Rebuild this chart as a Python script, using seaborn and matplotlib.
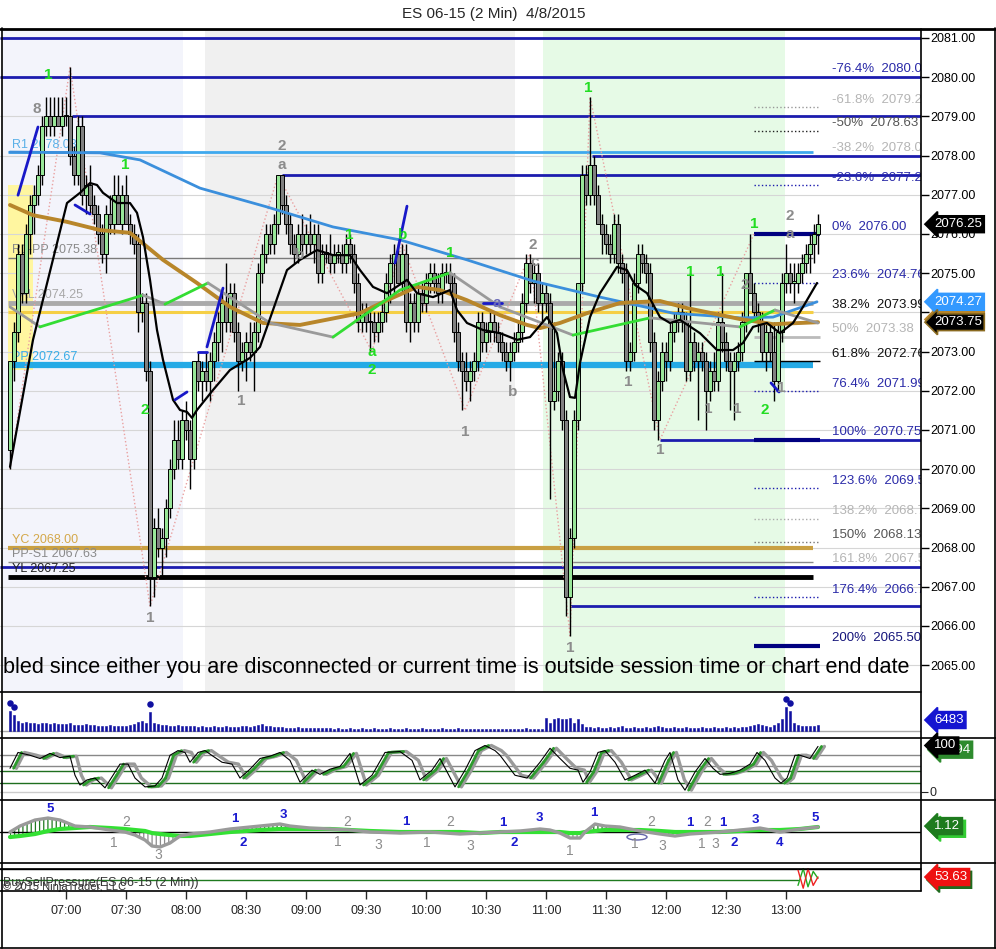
import numpy as np
import matplotlib
matplotlib.use("Agg")
import matplotlib.pyplot as plt
import matplotlib.transforms as mtrans
from matplotlib.patches import Rectangle, Ellipse
import seaborn as sns

sns.set_style("white")
plt.rcParams['font.family'] = ['Liberation Sans', 'DejaVu Sans']
plt.rcParams['hatch.linewidth'] = 0.9

# ---------------- data (2 min bars from 06:32) ----------------
bar_open = [
    2070.50, 2072.75, 2073.50, 2075.50, 2074.50, 2076.00, 2076.75, 2077.00, 2077.50, 2078.75,
    2079.00, 2078.75, 2079.00, 2078.75, 2079.00, 2079.00, 2078.00, 2077.50, 2078.75, 2077.00,
    2077.25, 2076.75, 2076.50, 2076.00, 2075.50, 2076.50, 2076.25, 2077.00, 2076.25, 2077.00,
    2076.25, 2076.00, 2075.75, 2074.00, 2074.25, 2072.50, 2067.25, 2068.50, 2068.00, 2068.25,
    2069.00, 2070.00, 2070.75, 2070.25, 2071.25, 2071.00, 2070.25, 2072.75, 2072.25, 2072.50,
    2072.25, 2072.75, 2073.25, 2073.75, 2074.25, 2073.75, 2074.50, 2073.50, 2072.75, 2073.00,
    2073.25, 2073.00, 2073.50, 2075.00, 2075.50, 2076.00, 2075.75, 2076.25, 2077.50, 2076.75,
    2076.25, 2075.75, 2075.50, 2076.00, 2075.75, 2076.00, 2075.75, 2076.00, 2075.00, 2075.50,
    2075.50, 2075.25, 2075.50, 2075.50, 2075.25, 2075.75, 2075.50, 2074.75, 2073.75, 2074.00,
    2073.75, 2073.75, 2073.50, 2073.75, 2074.00, 2074.75, 2075.25, 2075.50, 2074.75, 2075.50,
    2073.75, 2074.25, 2073.75, 2074.50, 2074.25, 2074.75, 2075.00, 2074.75, 2074.50, 2075.00,
    2075.00, 2074.75, 2073.50, 2072.75, 2072.50, 2072.25, 2072.50, 2072.75, 2073.75, 2073.25,
    2073.50, 2073.75, 2073.50, 2073.25, 2073.00, 2072.75, 2073.00, 2073.25, 2073.50, 2074.25,
    2075.25, 2074.75, 2075.00, 2074.25, 2074.50, 2074.25, 2071.75, 2072.00, 2072.75, 2071.25,
    2066.75, 2068.25, 2071.25, 2074.75, 2077.50, 2077.00, 2077.75, 2077.00, 2076.25, 2076.00,
    2075.75, 2075.50, 2076.25, 2075.25, 2075.00, 2072.75, 2073.00, 2074.75, 2075.50, 2075.25,
    2075.00, 2073.25, 2071.25, 2072.25, 2073.00, 2072.75, 2073.50, 2073.75, 2074.00, 2073.75,
    2072.50, 2073.25, 2072.75, 2073.00, 2072.75, 2072.00, 2072.50, 2072.25, 2073.75, 2073.25,
    2072.75, 2072.50, 2072.75, 2073.00, 2073.75, 2075.00, 2074.50, 2074.00, 2073.75, 2073.00,
    2073.50, 2073.00, 2072.25, 2073.50, 2074.75, 2075.00, 2074.75, 2074.75, 2075.00, 2075.25,
    2075.50, 2075.75, 2076.00]
bar_high = [
    2072.75, 2073.75, 2075.75, 2075.75, 2076.25, 2077.00, 2077.25, 2077.75, 2079.00, 2079.50,
    2079.50, 2079.50, 2079.50, 2079.50, 2079.50, 2080.25, 2078.25, 2079.00, 2079.00, 2077.50,
    2077.75, 2077.00, 2076.75, 2076.25, 2076.75, 2077.00, 2077.50, 2077.50, 2077.25, 2077.50,
    2076.50, 2076.25, 2076.00, 2074.50, 2074.50, 2072.75, 2068.75, 2069.00, 2068.50, 2069.25,
    2070.25, 2071.25, 2071.25, 2071.50, 2071.75, 2071.25, 2072.75, 2073.00, 2072.75, 2073.00,
    2073.00, 2073.50, 2074.00, 2074.50, 2075.25, 2074.75, 2074.75, 2073.75, 2073.25, 2073.50,
    2073.75, 2073.75, 2075.25, 2075.75, 2076.25, 2076.25, 2076.50, 2077.50, 2077.50, 2077.00,
    2076.50, 2076.00, 2076.25, 2076.50, 2076.25, 2076.50, 2076.25, 2076.25, 2075.75, 2075.75,
    2076.00, 2075.75, 2075.75, 2075.75, 2076.00, 2076.00, 2075.75, 2075.00, 2074.25, 2074.25,
    2074.00, 2074.00, 2074.00, 2074.25, 2075.00, 2075.50, 2075.75, 2075.75, 2075.75, 2075.75,
    2074.50, 2074.50, 2074.75, 2074.75, 2075.00, 2075.25, 2075.25, 2075.00, 2075.25, 2075.25,
    2075.25, 2075.00, 2073.75, 2073.00, 2073.00, 2072.75, 2073.00, 2074.00, 2074.00, 2073.75,
    2074.00, 2074.00, 2073.75, 2073.50, 2073.25, 2073.25, 2073.50, 2073.75, 2074.50, 2075.50,
    2075.50, 2075.25, 2075.25, 2074.75, 2074.75, 2074.50, 2073.75, 2073.00, 2073.00, 2071.50,
    2068.50, 2071.50, 2074.75, 2077.75, 2077.75, 2079.50, 2078.00, 2077.25, 2076.50, 2076.25,
    2076.00, 2076.50, 2076.50, 2075.50, 2075.25, 2073.25, 2075.00, 2075.75, 2075.75, 2075.50,
    2075.25, 2073.50, 2072.50, 2073.25, 2073.25, 2073.75, 2074.00, 2074.25, 2074.25, 2074.00,
    2075.00, 2073.50, 2073.25, 2073.25, 2073.00, 2072.75, 2073.00, 2074.00, 2075.00, 2073.50,
    2073.00, 2073.00, 2073.25, 2074.00, 2075.00, 2076.00, 2074.75, 2074.25, 2074.00, 2073.75,
    2073.75, 2073.75, 2073.75, 2075.00, 2075.75, 2075.25, 2075.25, 2075.25, 2075.50, 2075.75,
    2076.00, 2076.25, 2076.50]
bar_low = [
    2070.00, 2072.25, 2073.25, 2074.25, 2074.25, 2075.50, 2076.00, 2076.75, 2077.25, 2078.50,
    2078.50, 2078.50, 2078.75, 2078.50, 2078.75, 2077.75, 2077.25, 2077.25, 2076.75, 2076.50,
    2076.50, 2076.25, 2075.75, 2075.25, 2075.00, 2076.00, 2076.00, 2076.25, 2076.00, 2076.25,
    2075.75, 2075.50, 2073.50, 2073.75, 2072.25, 2066.50, 2066.75, 2067.75, 2067.25, 2067.75,
    2068.75, 2069.75, 2070.00, 2070.00, 2070.75, 2069.50, 2070.00, 2072.00, 2071.75, 2072.00,
    2071.75, 2072.25, 2072.75, 2073.00, 2073.50, 2073.50, 2073.25, 2072.00, 2072.50, 2072.25,
    2072.75, 2072.00, 2073.25, 2074.75, 2075.25, 2075.50, 2075.50, 2076.00, 2076.50, 2076.00,
    2075.50, 2075.25, 2075.25, 2075.50, 2075.50, 2075.50, 2075.25, 2074.75, 2074.75, 2075.25,
    2075.00, 2075.00, 2075.25, 2075.00, 2075.00, 2075.25, 2074.50, 2073.50, 2073.50, 2073.50,
    2073.00, 2073.25, 2073.25, 2073.50, 2073.75, 2074.25, 2074.50, 2074.75, 2074.50, 2073.50,
    2073.25, 2073.50, 2073.50, 2074.00, 2074.00, 2074.50, 2074.50, 2074.25, 2074.25, 2074.75,
    2074.50, 2073.25, 2072.50, 2071.50, 2072.00, 2071.75, 2072.25, 2072.50, 2073.00, 2073.00,
    2073.25, 2073.25, 2073.00, 2072.75, 2072.50, 2072.25, 2072.75, 2073.00, 2073.25, 2074.00,
    2074.50, 2074.25, 2074.00, 2073.75, 2074.00, 2069.25, 2071.50, 2071.75, 2071.00, 2066.25,
    2065.75, 2068.00, 2071.00, 2074.50, 2076.75, 2076.75, 2076.75, 2076.25, 2075.50, 2075.50,
    2075.25, 2075.25, 2075.00, 2074.75, 2072.50, 2072.50, 2072.75, 2074.50, 2075.00, 2074.75,
    2073.00, 2071.00, 2070.75, 2072.00, 2072.25, 2072.50, 2073.25, 2073.50, 2073.50, 2072.25,
    2072.25, 2072.50, 2071.25, 2072.50, 2071.00, 2071.75, 2072.00, 2072.00, 2073.00, 2072.50,
    2071.50, 2071.25, 2072.50, 2072.75, 2073.50, 2074.50, 2073.75, 2073.50, 2072.75, 2072.50,
    2072.75, 2071.75, 2072.00, 2073.25, 2074.50, 2074.50, 2074.25, 2074.50, 2074.75, 2075.00,
    2075.00, 2075.25, 2075.50]
bar_close = [
    2072.75, 2073.50, 2075.50, 2074.50, 2076.00, 2076.75, 2077.00, 2077.50, 2078.75, 2079.00,
    2078.75, 2079.00, 2078.75, 2079.00, 2079.00, 2078.00, 2077.50, 2078.75, 2077.00, 2077.25,
    2076.75, 2076.50, 2076.00, 2075.50, 2076.50, 2076.25, 2077.00, 2076.25, 2077.00, 2076.25,
    2076.00, 2075.75, 2074.00, 2074.25, 2072.50, 2067.25, 2068.50, 2068.00, 2068.25, 2069.00,
    2070.00, 2070.75, 2070.25, 2071.25, 2071.00, 2070.25, 2072.75, 2072.25, 2072.50, 2072.25,
    2072.75, 2073.25, 2073.75, 2074.25, 2073.75, 2074.50, 2073.50, 2072.75, 2073.00, 2073.25,
    2073.00, 2073.50, 2075.00, 2075.50, 2076.00, 2075.75, 2076.25, 2077.50, 2076.75, 2076.25,
    2075.75, 2075.50, 2076.00, 2075.75, 2076.00, 2075.75, 2076.00, 2075.00, 2075.50, 2075.50,
    2075.25, 2075.50, 2075.50, 2075.25, 2075.75, 2075.50, 2074.75, 2073.75, 2074.00, 2073.75,
    2073.75, 2073.50, 2073.75, 2074.00, 2074.75, 2075.25, 2075.50, 2074.75, 2075.50, 2073.75,
    2074.25, 2073.75, 2074.50, 2074.25, 2074.75, 2075.00, 2074.75, 2074.50, 2075.00, 2075.00,
    2074.75, 2073.50, 2072.75, 2072.50, 2072.25, 2072.50, 2072.75, 2073.75, 2073.25, 2073.50,
    2073.75, 2073.50, 2073.25, 2073.00, 2072.75, 2073.00, 2073.25, 2073.50, 2074.25, 2075.25,
    2074.75, 2075.00, 2074.25, 2074.50, 2074.25, 2071.75, 2072.00, 2072.75, 2071.25, 2066.75,
    2068.25, 2071.25, 2074.75, 2077.50, 2077.00, 2077.75, 2077.00, 2076.25, 2076.00, 2075.75,
    2075.50, 2076.25, 2075.25, 2075.00, 2072.75, 2073.00, 2074.75, 2075.50, 2075.25, 2075.00,
    2073.25, 2071.25, 2072.25, 2073.00, 2072.75, 2073.50, 2073.75, 2074.00, 2073.75, 2072.50,
    2073.25, 2072.75, 2073.00, 2072.75, 2072.00, 2072.50, 2072.25, 2073.75, 2073.25, 2072.75,
    2072.50, 2072.75, 2073.00, 2073.75, 2075.00, 2074.50, 2074.00, 2073.75, 2073.00, 2073.50,
    2073.00, 2072.25, 2073.50, 2074.75, 2075.00, 2074.75, 2074.75, 2075.00, 2075.25, 2075.50,
    2075.75, 2076.00, 2076.25]
volume = [
    11800, 9400, 5900, 4700, 5300, 4700, 4700, 4100, 4700, 4700,
    4100, 4700, 4100, 4100, 4100, 4700, 3500, 3500, 3500, 4100,
    3500, 3500, 3000, 3000, 3000, 3500, 3000, 3000, 3000, 3000,
    3500, 4100, 5300, 5900, 4700, 11200, 4700, 4100, 3500, 3500,
    3000, 3000, 3500, 3000, 3000, 3000, 3000, 2400, 3000, 2400,
    2400, 3000, 2400, 2400, 3000, 2400, 2400, 2400, 3000, 3000,
    2400, 3000, 3500, 4100, 3000, 3000, 2400, 2400, 2400, 1800,
    1800, 1800, 2400, 1800, 1800, 1800, 1800, 1800, 1800, 1800,
    1800, 1200, 1800, 1200, 1200, 1800, 1200, 1200, 1800, 1200,
    1200, 1800, 1200, 1200, 1200, 1800, 1200, 1200, 1200, 1800,
    1200, 1200, 1200, 1800, 1200, 1200, 1200, 1200, 1800, 1200,
    1200, 1200, 1800, 1200, 1200, 1200, 1200, 1200, 1200, 1200,
    1200, 1200, 1200, 1200, 1200, 1200, 1200, 1200, 1200, 1800,
    1200, 1200, 1200, 1200, 7700, 4700, 7100, 7700, 7100, 7100,
    7700, 4700, 7100, 4100, 2400, 2400, 1800, 2400, 1800, 1800,
    2400, 1800, 2400, 3000, 1800, 1800, 2400, 1800, 1800, 2400,
    1800, 2400, 3000, 2400, 1800, 1800, 2400, 1800, 1800, 2400,
    1800, 1800, 1800, 2400, 1800, 1800, 2400, 1800, 1800, 2400,
    1800, 2400, 1800, 2400, 2400, 3000, 3500, 4100, 3500, 3000,
    2400, 3500, 4700, 7100, 14100, 11800, 4700, 3500, 3000, 3000,
    3000, 3000, 3500]

time_labels = ['07:00', '07:30', '08:00', '08:30', '09:00', '09:30', '10:00',
               '10:30', '11:00', '11:30', '12:00', '12:30', '13:00']
first_bar_minute = 6 * 60 + 32

# moving averages (bar index, price)
black_i = [0, 5.75, 14.25, 17.5, 20, 21.75, 23.25, 26.75, 30, 31.75, 33.25, 35, 36.75, 38.25,
           40.75, 42.5, 44.25, 45.5, 46.75, 50.75, 55, 60, 62.5, 65.75, 69.25, 72.5, 76.75,
           80.75, 85, 87.5, 90.75, 94.25, 99.25, 101.75, 105.75, 110, 111.75, 114.25, 118.25,
           122.5, 126.75, 130, 134.25, 136.75, 138.25, 140, 141.25, 142.5, 145, 147.5, 151.75,
           154.25, 156.25, 159.25, 162.5, 165, 167.5, 172.5, 176.75, 180.75, 183.25, 185.75,
           189.25, 192.5, 195.75, 198.25, 201.75]
black_p = [2070.06, 2073.30, 2076.79, 2077.05, 2077.30, 2077.25, 2077.05, 2076.79, 2076.79,
           2076.54, 2075.92, 2074.83, 2073.55, 2072.79, 2071.77, 2071.51, 2071.46, 2071.31,
           2071.51, 2072.02, 2072.53, 2072.84, 2073.12, 2074.06, 2075.08, 2075.34, 2075.59,
           2075.46, 2075.46, 2075.08, 2074.65, 2074.49, 2074.83, 2074.49, 2074.39, 2074.57,
           2074.06, 2073.73, 2073.55, 2073.47, 2073.30, 2073.37, 2073.88, 2073.47, 2072.53,
           2071.84, 2071.82, 2072.71, 2073.88, 2074.49, 2075.16, 2075.08, 2074.70, 2074.49,
           2073.88, 2073.73, 2073.81, 2073.47, 2073.04, 2073.04, 2073.22, 2073.63, 2073.73,
           2073.47, 2073.73, 2074.14, 2074.75]
blue_i = [0, 22.5, 32.5, 47.5, 64.25, 80.75, 97.5, 114.25, 130.75, 147.5, 165.75, 182.5, 190.75, 201.75]
blue_p = [2078.09, 2078.07, 2077.89, 2077.17, 2076.69, 2076.18, 2075.85, 2075.34, 2074.80,
          2074.39, 2073.98, 2073.86, 2073.88, 2074.27]
gold_i = [0, 5.75, 14.25, 22.5, 30, 38.25, 46.75, 55, 63.25, 72.5, 87.5, 94.25, 101.75, 107.5,
          114.25, 122.5, 129.25, 132.5, 137.5, 144.25, 152.5, 162.5, 169.25, 182.5, 190.75, 202]
gold_p = [2076.74, 2076.48, 2076.31, 2076.10, 2076.03, 2075.34, 2074.75, 2074.14, 2073.73,
          2073.68, 2073.98, 2074.31, 2074.65, 2074.57, 2074.31, 2073.93, 2073.68, 2073.60,
          2073.73, 2073.98, 2074.24, 2074.29, 2074.11, 2073.83, 2073.70, 2073.75]
gg_i = [0, 7.5, 33.25, 38.75, 49.5, 65, 80.75, 97.5, 110, 122.5, 140.75, 160, 182.5, 191.25, 202]
gg_p = [2074.14, 2073.63, 2074.44, 2074.21, 2074.75, 2073.73, 2073.37, 2074.57, 2075.01,
        2074.14, 2073.42, 2073.86, 2073.63, 2074.06, 2073.73]

# zigzag swing points
zz_i = [0, 15, 35, 67, 90.5, 98, 113.75, 130, 140, 145, 162.5, 186]
zz_p = [2070.0, 2080.25, 2066.5, 2077.5, 2073.0, 2075.75, 2071.5, 2075.5, 2065.75, 2079.5, 2070.75, 2076.0]

# short blue trend marks (start bar, start price, end bar, end price)
mark_i0 = [2, 16.25, 41.25, 47, 49.25, 96.25, 118.25, 190.25]
mark_p0 = [2076.99, 2076.74, 2071.77, 2072.99, 2073.12, 2075.26, 2074.24, 2072.20]
mark_i1 = [7, 20, 44.25, 49.25, 53.25, 99.25, 123, 192.25]
mark_p1 = [2078.73, 2076.51, 2071.97, 2072.99, 2074.62, 2076.71, 2074.24, 2071.97]

# pivot levels
pivot_names = ['R1', 'R1-PP', 'VAL', 'PP', 'YC', 'PP-S1', 'YL']
pivot_prices = [2078.08, 2075.38, 2074.25, 2072.67, 2068.00, 2067.63, 2067.25]
open_level = 2074.00
pivot_end_bar = 200.75

# blue horizontal levels and the bar where each starts (None = from left edge)
blue_levels = [2081.00, 2080.00, 2079.00, 2078.00, 2077.50, 2070.75, 2067.50, 2066.50]
blue_level_start = [None, None, 15.5, 145.5, 68, 162.5, None, 140]

# fibonacci
fib_pct = [-76.4, -61.8, -50, -38.2, -23.6, 0, 23.6, 38.2, 50, 61.8, 76.4, 100, 123.6, 138.2, 150, 161.8, 176.4, 200]
fib_price = [2080.01, 2079.24, 2078.63, 2078.01, 2077.24, 2076.00, 2074.76, 2073.99, 2073.38,
             2072.76, 2071.99, 2070.75, 2069.51, 2068.74, 2068.13, 2067.51, 2066.74, 2065.50]
fib_start_bar, fib_end_bar, fib_text_bar = 186, 202.5, 205.5

# wave labels
gray_lbl = ['8', '2', 'a', 'b', '1', '1', '1', 'b', '2', 'c', '1', '1', '1', '1', '1', '2', '2', 'a', '1']
gray_lbl_i = [6.75, 68, 68, 72.5, 57.75, 35, 113.75, 125.75, 130.75, 131.25, 140, 154.5, 162.5,
              174.5, 181.75, 183.75, 195, 195, 192.75]
gray_lbl_p = [2079.19, 2078.24, 2077.76, 2075.46, 2071.74, 2066.2, 2070.95, 2071.97, 2075.72,
              2075.29, 2065.44, 2072.22, 2070.49, 2071.54, 2071.54, 2074.70, 2076.46, 2076.0, 2072.07]
green_lbl = ['1', '1', '2', '1', 'b', '1', 'a', '2', '1', '1', '1', '1', '2']
green_lbl_i = [9.5, 28.75, 33.75, 84.75, 98.25, 110, 90.5, 90.5, 144.5, 170, 177.5, 186, 188.75]
green_lbl_p = [2080.06, 2077.76, 2071.51, 2075.97, 2075.97, 2075.52, 2072.99, 2072.53, 2079.72,
               2075.03, 2075.03, 2076.26, 2071.51]

# stochastics
st_i = [0, 2, 5, 7.5, 10, 12.5, 15, 16.25, 17.5, 19.25, 21.25, 23.75, 25.75, 27.5, 29.5, 31.25,
        33.75, 36.25, 38, 40, 42, 43.75, 45, 47, 48.75, 50.75, 53, 55.5, 57.5, 60, 62.5, 65,
        67.5, 70, 72.5, 75.5, 77.5, 80, 82.5, 85, 87.5, 90.5, 93.75, 97.5, 100.5, 102.5, 105.5,
        107.5, 111.25, 113.75, 116.25, 118.75, 121.25, 122.5, 126.25, 129.25, 132.5, 135, 137.5,
        140, 142, 143.25, 145, 147, 148.75, 151.25, 153.75, 156.25, 158.75, 161.25, 163.75, 165,
        167, 168.75, 171.25, 173.75, 175.75, 177.5, 180, 182.5, 185, 186.75, 188.75, 191.25,
        192.75, 194.25, 196.25, 197.5, 200, 202]
st_v = [51, 85, 79, 72, 83, 74, 77, 36, 15, 26, 30, 9, 36, 60, 60, 30, 11, 13, 30, 79, 89, 85,
        64, 85, 89, 77, 64, 60, 30, 49, 72, 77, 85, 68, 21, 47, 38, 49, 55, 83, 15, 36, 85, 87,
        68, 26, 47, 72, 11, 47, 89, 100, 89, 79, 36, 30, 64, 94, 72, 51, 47, 21, 43, 85, 89, 64,
        26, 36, 47, 19, 68, 85, 26, 4, 43, 72, 51, 38, 40, 47, 60, 85, 68, 30, 19, 30, 79, 79, 72, 98]
st_levels = [80, 55, 45, 20, 0]

# oscillator
osc_i = [0, 2.5, 6.25, 9.5, 12.5, 16.25, 20, 25, 28.75, 31.25, 33.75, 35.5, 37.5, 40, 42.5, 45,
         50, 55, 62.5, 67.5, 70, 75, 80, 85, 90, 97.5, 105, 112.5, 117.5, 122.5, 127.5, 132.5,
         135, 137.5, 140, 142.5, 143.75, 146.25, 148.75, 152.5, 157.5, 162.5, 166.25, 170,
         177.5, 182.5, 187.5, 192.5, 197.5, 202]
osc_gray = [0.00, 1.11, 2.22, 2.59, 2.22, 1.11, 0.93, 0.37, 0.00, -0.56, -1.48, -2.59, -2.78,
            -2.04, -0.74, -0.37, 0.00, 0.56, 1.11, 1.48, 1.11, 0.74, 0.56, 0.37, 0.00, -0.19,
            0.00, -0.37, -0.19, 0.00, 0.19, 0.56, 0.37, -0.19, -1.11, -1.11, 0.00, 1.48, 1.11,
            0.93, 0.19, -0.37, -0.74, -0.37, 0.00, 0.37, 0.74, 0.00, 0.56, 0.93]
osc_green = [-0.93, -0.74, -0.37, 0.19, 0.56, 0.74, 0.93, 0.74, 0.56, 0.37, 0.19, -0.19, -0.37,
             -0.56, -0.74, -0.74, -0.37, 0.00, 0.37, 0.56, 0.56, 0.56, 0.56, 0.37, 0.19, 0.00,
             0.00, 0.00, -0.19, 0.00, 0.00, 0.00, 0.00, 0.00, -0.19, -0.19, 0.00, 0.19, 0.37,
             0.37, 0.37, 0.19, 0.00, 0.00, 0.00, 0.19, 0.37, 0.37, 0.56, 0.93]
osc_blue_lbl = ['5', '1', '3', '2', '1', '1', '2', '3', '1', '1', '1', '2', '3', '4', '5']
osc_blue_i = [10, 56.25, 68.25, 58.25, 99, 123.25, 126, 132.25, 146, 170, 178.25, 181, 186.25, 192.25, 201.25]
osc_blue_v = [4.26, 2.41, 3.15, -2.04, 1.85, 1.67, -2.04, 2.59, 3.52, 1.67, 1.67, -2.04, 2.22, -2.04, 2.59]
osc_gray_lbl = ['2', '1', '3', '2', '1', '3', '2', '1', '3', '1', '1', '2', '3', '2', '1', '3']
osc_gray_i = [29, 26, 37, 84.25, 82, 92, 110, 104.25, 115, 140, 156.25, 160.25, 163, 174.25, 173, 176.25]
osc_gray_v = [1.85, -2.04, -4.26, 1.85, -1.85, -2.41, 1.85, -2.04, -2.59, -3.52, -2.22, 1.85,
              -2.59, 1.85, -2.22, -2.22]

# buy/sell pressure tail
bsp_i = [197, 198.3, 199.5, 200.8, 202]
bsp_buy = [0.20, 0.80, 0.15, 0.70, 0.45]
bsp_sell = [0.75, 0.10, 0.80, 0.20, 0.50]

# ---------------- layout (pixel boxes) ----------------
W, H = 996, 949
fig = plt.figure(figsize=(W / 100, H / 100), dpi=100)
fig.patch.set_facecolor('white')


def panel(top, bottom, left=0, right=921):
    ax = fig.add_axes([left / W, 1 - bottom / H, (right - left) / W, (bottom - top) / H])
    ax.set_xlim(-2.5, 227.75)
    for s in ax.spines.values():
        s.set_visible(False)
    ax.set_xticks([])
    ax.set_yticks([])
    return ax


ax_p = panel(30, 692)
ax_v = panel(692, 738)
ax_s = panel(738, 800)
ax_o = panel(800, 863)
ax_b = panel(863, 891)

idx = np.arange(len(bar_close))
o, h, l, c = map(np.array, (bar_open, bar_high, bar_low, bar_close))

# ---- price panel ----
ax_p.set_ylim(2064.316, 2081.204)
ax_p.axvspan(-1.75, 43.25, color='#f3f4fb', zorder=0.1, lw=0)
ax_p.axvspan(48.75, 126.25, color='#f0f0f0', zorder=0.1, lw=0)
ax_p.axvspan(133.25, 193.75, color='#e6fae6', zorder=0.1, lw=0)
ax_p.add_patch(Rectangle((-0.5, 2072.53), 6.25, 4.72, color='#fff6a0', zorder=0.2, lw=0))

ax_p.set_yticks(np.arange(2065, 2082))
ax_p.set_yticklabels([f'{v:.2f}' for v in np.arange(2065, 2082)])
ax_p.yaxis.tick_right()
ax_p.tick_params(axis='y', direction='out', length=6, pad=1, labelsize=9, colors='black', width=1)
ax_p.set_axisbelow(True)
ax_p.yaxis.grid(True, color='#d6d6d6', lw=0.8)

piv_col = {'R1': '#3fa9ee', 'R1-PP': '#7a7a7a', 'VAL': '#aaaaaa', 'PP': '#25aae6',
           'YC': '#c9a043', 'PP-S1': '#8a8a8a', 'YL': '#000000'}
piv_lw = {'R1': 2, 'R1-PP': 1, 'VAL': 3.5, 'PP': 4.5, 'YC': 3, 'PP-S1': 1, 'YL': 3.5}
piv_txt = {'R1': '#5ab0e8', 'R1-PP': '#8a8a8a', 'VAL': '#a8a8a8', 'PP': '#38ade8',
           'YC': '#d4a84a', 'PP-S1': '#8a8a8a', 'YL': '#222222'}
for name, price in zip(pivot_names, pivot_prices):
    ax_p.hlines(price, -0.5, pivot_end_bar, color=piv_col[name], lw=piv_lw[name], zorder=1.2)
    ax_p.text(0.5, price + 0.2, f'{name} {price:.2f}', color=piv_txt[name], fontsize=9,
              va='center', ha='left', zorder=2.5)
ax_p.hlines(open_level, -0.5, pivot_end_bar, color='#f5cf45', lw=2.2, zorder=1.1)

for price, start in zip(blue_levels, blue_level_start):
    ax_p.hlines(price, -2.5 if start is None else start, 227.75, color='#1c1cae', lw=2, zorder=1.3)

fib_style = {
    -61.8: ('#999999', ':', 1), -50: ('#222222', ':', 1), -23.6: ('#1c1cae', ':', 1),
    0: ('#000080', '-', 3), 23.6: ('#1c1cae', ':', 1), 50: ('#bbbbbb', '-', 2),
    61.8: ('#000000', '-', 1), 76.4: ('#1c1cae', ':', 1), 100: ('#000080', '-', 3),
    123.6: ('#1c1cae', ':', 1), 138.2: ('#aaaaaa', ':', 1), 150: ('#777777', ':', 1),
    176.4: ('#1c1cae', ':', 1), 200: ('#000080', '-', 3)}
fib_txt = {-76.4: '#2a2aa8', -61.8: '#b5b5b5', -50: '#555555', -38.2: '#b5b5b5', -23.6: '#2a2aa8',
           0: '#2a2aa8', 23.6: '#2a2aa8', 38.2: '#111111', 50: '#b5b5b5', 61.8: '#111111',
           76.4: '#2a2aa8', 100: '#2a2aa8', 123.6: '#2a2aa8', 138.2: '#b5b5b5', 150: '#555555',
           161.8: '#b5b5b5', 176.4: '#2a2aa8', 200: '#14147a'}
for pct, price in zip(fib_pct, fib_price):
    if pct in fib_style:
        col, ls, lw = fib_style[pct]
        ax_p.hlines(price, fib_start_bar, fib_end_bar, color=col, ls=ls, lw=lw, zorder=1.4)
    ax_p.text(fib_text_bar, price + 0.19, f'{pct:g}%  {price:.2f}', color=fib_txt[pct],
              fontsize=9.5, va='center', ha='left', clip_on=True, zorder=2)

ax_p.plot(zz_i, zz_p, color='#e9a0a0', ls=':', lw=1, zorder=1.5)

# candles
up = c >= o
body_lo = np.minimum(o, c)
body_h = np.maximum(np.abs(c - o), 0.04)
ax_p.vlines(idx, l, h, color='black', lw=1, zorder=3)
ax_p.bar(idx, body_h, bottom=body_lo, width=0.8,
         color=np.where(up, '#98e698', '#808080'), edgecolor='black', linewidth=0.7, zorder=3.1)

# moving averages
sns.lineplot(x=blue_i, y=blue_p, ax=ax_p, color='#3b8fdc', lw=2, zorder=4, estimator=None, sort=False)
sns.lineplot(x=gold_i, y=gold_p, ax=ax_p, color='#b8862a', lw=2.8, zorder=4, estimator=None, sort=False)
for k in range(len(gg_i) - 1):
    col = '#33dd33' if gg_p[k + 1] > gg_p[k] else '#9a9a9a'
    ax_p.plot(gg_i[k:k + 2], gg_p[k:k + 2], color=col, lw=2, zorder=4.1, solid_capstyle='round')
sns.lineplot(x=black_i, y=black_p, ax=ax_p, color='black', lw=1.6, zorder=4.2, estimator=None, sort=False)

for a0, b0, a1, b1 in zip(mark_i0, mark_p0, mark_i1, mark_p1):
    ax_p.plot([a0, a1], [b0, b1], color='#1818c8', lw=2, zorder=5)

for t, xi, yp in zip(gray_lbl, gray_lbl_i, gray_lbl_p):
    ax_p.text(xi, yp, t, color='#8c8c8c', fontsize=11, fontweight='bold', ha='center', va='center', zorder=6)
for t, xi, yp in zip(green_lbl, green_lbl_i, green_lbl_p):
    ax_p.text(xi, yp, t, color='#22dd22', fontsize=11, fontweight='bold', ha='center', va='center', zorder=6)
ax_p.text(121.75, 2074.24, 'a', color='#6a6ab8', fontsize=11, fontweight='bold', ha='center', va='center', zorder=6)

ax_p.text(-1.75, 2064.93, 'bled since either you are disconnected or current time is outside '
          'session time or chart end date', fontsize=15.6, ha='left', va='center', color='black', zorder=7)

# ---- volume ----
vol = np.array(volume)
ax_v.set_ylim(-4130, 23010)
ax_v.axhline(0, color='#aaaaaa', lw=1)
ax_v.bar(idx, vol, width=0.6, color='#1010a0', edgecolor='#1010a0', linewidth=0.4, zorder=3)
spike = vol > 9000
ax_v.scatter(idx[spike], vol[spike] + 4600, s=22, color='#1010a0', zorder=4, lw=0)

# ---- stochastics ----
ax_s.set_ylim(-17.2, 116.1)
for lv, col in zip(st_levels, ['#888888', '#888888', '#1f6f1f', '#1f6f1f', '#cccccc']):
    ax_s.axhline(lv, color=col, lw=1)
st_x = np.array(st_i)
sns.lineplot(x=st_x + 1.6, y=st_v, ax=ax_s, color='#9a9a9a', lw=2.4, estimator=None, sort=False)
for k in range(len(st_v) - 1):
    if st_v[k + 1] > st_v[k]:
        ax_s.plot(st_x[k:k + 2] + 0.9, st_v[k:k + 2], color='#2d9b2d', lw=2)
sns.lineplot(x=st_x, y=st_v, ax=ax_s, color='black', lw=0.8, estimator=None, sort=False)
ax_s.set_yticks([0])
ax_s.set_yticklabels(['0'])
ax_s.yaxis.tick_right()
ax_s.tick_params(axis='y', direction='out', length=5, pad=1, labelsize=9)

# ---- oscillator ----
ax_o.set_ylim(-5.74, 5.93)
ax_o.axhline(0, color='black', lw=1)
og, on = np.array(osc_gray), np.array(osc_green)
ax_o.fill_between(osc_i, og, on, where=og >= on, interpolate=True, facecolor='none',
                  edgecolor='#1f7a1f', hatch='||||', lw=0)
ax_o.fill_between(osc_i, og, on, where=og < on, interpolate=True, facecolor='none',
                  edgecolor='#8a8a8a', hatch='||||', lw=0)
sns.lineplot(x=osc_i, y=osc_green, ax=ax_o, color='#33e033', lw=3, estimator=None, sort=False)
sns.lineplot(x=osc_i, y=osc_gray, ax=ax_o, color='#9a9a9a', lw=2.4, estimator=None, sort=False)
for t, xi, v in zip(osc_blue_lbl, osc_blue_i, osc_blue_v):
    ax_o.text(xi, v, t, color='#1a1ad0', fontsize=9.5, fontweight='bold', ha='center', va='center')
for t, xi, v in zip(osc_gray_lbl, osc_gray_i, osc_gray_v):
    ax_o.text(xi, v, t, color='#8c8c8c', fontsize=10, ha='center', va='center')
ax_o.add_patch(Ellipse((156.75, -0.93), 5, 1.1, fill=False, ec='#6666aa', lw=1))

# ---- buy/sell pressure ----
ax_b.set_ylim(0, 1)
ax_b.axhline(0.786, color='black', lw=1)
ax_b.plot([-2.5, bsp_i[0]], [0.393, 0.393], color='#1f7a1f', lw=1)
ax_b.plot(bsp_i, bsp_buy, color='#22aa22', lw=1)
ax_b.plot(bsp_i, bsp_sell, color='#ee2222', lw=1)
ax_b.text(3 / 921, 0.29, 'BuySellPressure(ES 06-15 (2 Min))', transform=ax_b.transAxes,
          fontsize=9, color='#333333', va='center', ha='left')
ax_b.text(3 / 921, 0.14, '\u00a9 2015 NinjaTrader, LLC', transform=ax_b.transAxes,
          fontsize=8, color='#333333', va='center', ha='left')
tick_i = [(int(t[:2]) * 60 + int(t[3:]) - first_bar_minute) / 2 for t in time_labels]
ax_b.set_xticks(tick_i)
ax_b.set_xticklabels(time_labels)
ax_b.tick_params(axis='x', direction='out', length=6, pad=4, labelsize=9, bottom=True, width=1)


# ---- right-side value tags ----
def tag(ax, y, text, fc, ec=None, tc='white', dx=0, fs=9.5, z=20):
    tr = mtrans.offset_copy(ax.get_yaxis_transform(), fig=fig, x=13 + dx, y=0, units='dots')
    ax.text(1.0, y, text, transform=tr, ha='left', va='center', fontsize=fs, color=tc, zorder=z,
            clip_on=False, bbox=dict(boxstyle='larrow,pad=0.18', fc=fc, ec=ec or fc, lw=1.2))


tag(ax_p, bar_close[-1], f'{bar_close[-1]:.2f}', 'black')
tag(ax_p, blue_p[-1], f'{blue_p[-1]:.2f}', '#3399ff')
tag(ax_p, gold_p[-1] + 0.07, f'{gold_p[-1]:.2f}', '#b8862a', z=19)
tag(ax_p, gold_p[-1], f'{gold_p[-1]:.2f}', 'black', ec='#8a6a20')
tag(ax_v, 6483, '6483', '#1515d0')
tag(ax_s, 91, '93.94', '#2e8b2e', dx=3, z=19)
tag(ax_s, 100, '100', 'black')
tag(ax_o, 0.6, '1.13', '#33cc33', dx=3, z=19)
tag(ax_o, 1.1, '1.12', '#1e7b1e')
tag(ax_b, 0.40, '53.63', '#1e6b1e', dx=2, z=19)
tag(ax_b, 0.50, '53.63', '#ee1111')

# ---- frame, separators, title ----
ax_f = fig.add_axes([0, 0, 1, 1], zorder=50)
ax_f.set_xlim(0, W)
ax_f.set_ylim(H, 0)
ax_f.axis('off')
ax_f.patch.set_alpha(0)
frame = dict(color='black', lw=1.2)
ax_f.plot([0, W], [28.5, 28.5], color='black', lw=2)
ax_f.plot([1.5, 1.5], [28, 948], **frame)
ax_f.plot([995, 995], [28, 948], **frame)
ax_f.plot([0, W], [947.5, 947.5], **frame)
ax_f.plot([921, 921], [29, 891], **frame)
for yy in (692, 869, 891):
    ax_f.plot([0, 921], [yy, yy], **frame)
for yy in (738, 800, 863):
    ax_f.plot([0, W], [yy, yy], **frame)
fig.text(494 / W, 1 - 14 / H, 'ES 06-15 (2 Min)  4/8/2015', ha='center', va='center', fontsize=11)

fig.savefig('out.png', dpi=100, facecolor='white')
